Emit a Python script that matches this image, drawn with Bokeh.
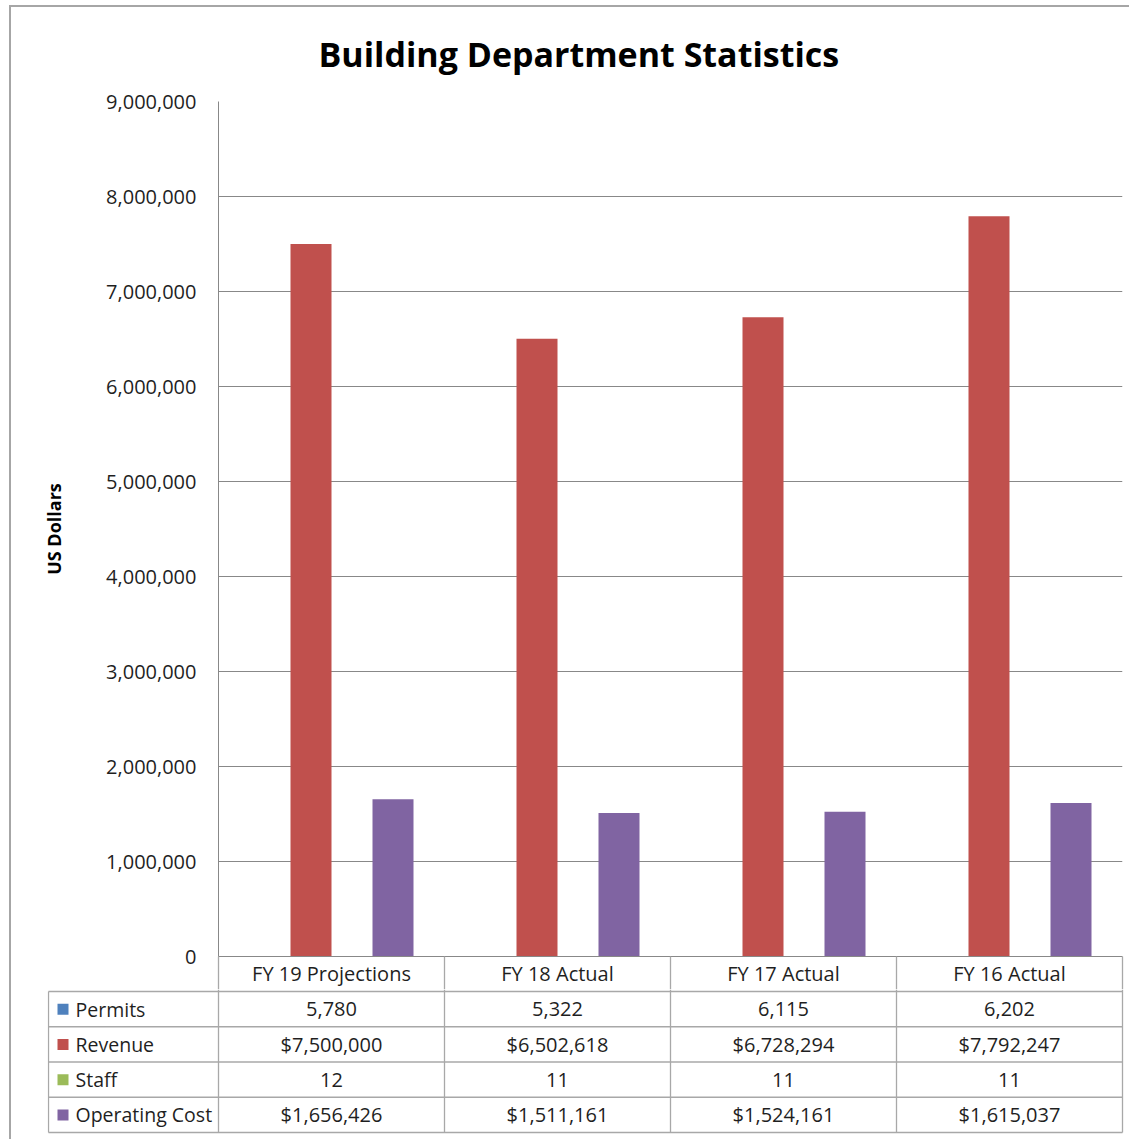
from bokeh.plotting import figure
from bokeh.models import (Range1d, SingleIntervalTicker, FixedTicker,
                          NumeralTickFormatter, ColumnDataSource)
from bokeh.layouts import column
from bokeh.embed import file_html
from bokeh.resources import INLINE
from bokeh.core.properties import value

# ---------------- data ----------------
categories = ["FY 19 Projections", "FY 18 Actual", "FY 17 Actual", "FY 16 Actual"]
permits = [5780, 5322, 6115, 6202]
revenue = [7500000, 6502618, 6728294, 7792247]
staff = [12, 11, 11, 11]
operating_cost = [1656426, 1511161, 1524161, 1615037]
series_names = ["Permits", "Revenue", "Staff", "Operating Cost"]
series_colors = ["#4F81BD", "#C0504D", "#9BBB59", "#8064A2"]
title_text = "Building Department  Statistics"
y_label = "US Dollars"
y_max = 9000000
y_step = 1000000

# ---------------- layout constants (pixels) ----------------
OX, OY = 11, 7            # outer border offset
W = 1129 - OX
FRAME_L, FRAME_R = 218, 1122
FRAME_T, FRAME_B = 101, 956
HEADER_B = 991
CHART_BOTTOM = 989        # where the chart figure ends / table figure starts
CAT_W = (FRAME_R - FRAME_L) / len(categories)
ROW_H = 35.25
FONT = "Open Sans"
TXT = "#1f1f1f"
GRID = "#888888"
TGRID = "#a8a8a8"

series_values = [permits, revenue, staff, operating_cost]
ncat = len(categories)
cat_index = list(range(ncat))
centers = [i + 0.5 for i in cat_index]
bounds = list(range(ncat + 1))

# ---------------- chart ----------------
p = figure(x_range=Range1d(0, ncat), y_range=Range1d(0, y_max),
           width=W, height=CHART_BOTTOM - OY,
           min_border_left=FRAME_L - OX, min_border_right=(OX + W) - FRAME_R,
           min_border_top=FRAME_T - OY, min_border_bottom=CHART_BOTTOM - FRAME_B,
           output_backend="svg", toolbar_location=None,
           outline_line_color=None, background_fill_color="white",
           border_fill_color="white")
p.frame_align = False

bar_w = 41 / CAT_W
n = len(series_values)
for i, (vals, color) in enumerate(zip(series_values, series_colors)):
    off = (i - (n - 1) / 2) * bar_w
    src = ColumnDataSource(dict(x=[c + off for c in centers], top=vals))
    p.vbar(x="x", top="top", width=bar_w, source=src,
           fill_color=color, line_color=None)

p.xgrid.visible = False
ticker = SingleIntervalTicker(interval=y_step, num_minor_ticks=0)
p.yaxis.ticker = ticker
p.ygrid.ticker = ticker
p.ygrid.grid_line_color = GRID
p.yaxis.formatter = NumeralTickFormatter(format="0,0")
p.yaxis.axis_line_color = GRID
p.yaxis.major_tick_line_color = None
p.yaxis.minor_tick_line_color = None
p.yaxis.major_label_text_font = FONT
p.yaxis.major_label_text_font_size = "20px"
p.yaxis.major_label_text_color = TXT
p.yaxis.major_label_standoff = 16
p.yaxis.axis_label = y_label
p.yaxis.axis_label_text_font = FONT
p.yaxis.axis_label_text_font_style = "bold"
p.yaxis.axis_label_text_font_size = "18px"
p.yaxis.axis_label_text_color = "black"
p.yaxis.axis_label_standoff = 37

# header row of the data table = category axis (column borders drawn as minor ticks)
hdr = p.xaxis[0]
hdr.ticker = FixedTicker(ticks=centers, minor_ticks=bounds)
hdr.major_label_overrides = {c: cat for c, cat in zip(centers, categories)}
hdr.axis_line_color = GRID
hdr.major_tick_line_color = None
hdr.major_tick_out = 0
hdr.major_tick_in = 0
hdr.minor_tick_line_color = TGRID
hdr.minor_tick_line_width = 1.3
hdr.minor_tick_out = HEADER_B - FRAME_B
hdr.minor_tick_in = 0
hdr.major_label_standoff = -(HEADER_B - FRAME_B) + 3
hdr.major_label_text_font = FONT
hdr.major_label_text_font_size = "20px"
hdr.major_label_text_color = TXT

p.title.text = title_text
p.title.text_font = FONT
p.title.text_font_style = "bold"
p.title.text_font_size = "34px"
p.title.text_color = "black"
p.title.align = "left"
p.title.offset = 318 - FRAME_L
p.title.vertical_align = "top"
p.title.standoff = 45

# ---------------- data table ----------------
T_L, T_R = 47, 1124          # table frame
T_TOP, T_BOT = CHART_BOTTOM, 1134
label_col_w = (FRAME_L - 48) / CAT_W
x_start = -(FRAME_L - T_L) / CAT_W
x_end = ncat + (T_R - FRAME_R) / CAT_W
nrow = len(series_names)
y_top = -(HEADER_B - T_TOP) / ROW_H
y_bot = (T_BOT - HEADER_B) / ROW_H

p2 = figure(width=W, height=1139 - CHART_BOTTOM,
            x_range=Range1d(x_start, x_end), y_range=Range1d(y_bot, y_top),
            min_border_left=T_L - OX, min_border_right=(OX + W) - T_R,
            min_border_top=0, min_border_bottom=1139 - T_BOT,
            x_axis_location=None, y_axis_location=None,
            output_backend="svg", toolbar_location=None,
            outline_line_color=None)
p2.frame_align = False
p2.grid.visible = False

# horizontal lines (row borders)
hy = list(range(0, nrow + 1))
p2.segment(x0=[-label_col_w] * len(hy), x1=[ncat] * len(hy), y0=hy, y1=hy,
           line_color=TGRID, line_width=1.3)
# vertical lines (column borders)
p2.segment(x0=bounds, x1=bounds, y0=[y_top] * len(bounds), y1=[nrow] * len(bounds),
           line_color=TGRID, line_width=1.3)
p2.segment(x0=[-label_col_w], x1=[-label_col_w], y0=[0], y1=[nrow],
           line_color=TGRID, line_width=1.3)

# row labels with legend keys
row_y = [r + 0.5 for r in range(nrow)]
key_x = -label_col_w + (62.5 - 48) / CAT_W
lab_x = -label_col_w + (75 - 48) / CAT_W
p2.scatter(x=[key_x] * nrow, y=row_y, marker="square", size=11,
           fill_color=series_colors, line_color=None)
p2.text(x=[lab_x] * nrow, y=row_y, text=series_names,
        text_align="left", text_baseline="middle",
        text_font=value(FONT), text_font_size="19.5px", text_color=TXT)

# cell values
fmt = [lambda v: f"{v:,}", lambda v: f"${v:,}", lambda v: f"{v:,}", lambda v: f"${v:,}"]
for r, (vals, f) in enumerate(zip(series_values, fmt)):
    p2.text(x=centers, y=[r + 0.5] * ncat,
            text=[f(v) for v in vals], text_align="center", text_baseline="middle",
            text_font=value(FONT), text_font_size="20px", text_color=TXT)

layout = column(p, p2, spacing=0,
                styles={"border-top": "2px solid #a6a6a6",
                        "border-left": "2px solid #a6a6a6",
                        "margin-left": "9px", "margin-top": "5px"})

open("out.html", "w").write(file_html(layout, INLINE))
